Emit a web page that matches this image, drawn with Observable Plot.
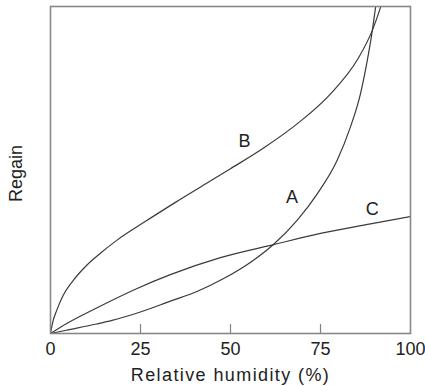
<!DOCTYPE html>
<html>
<head>
<meta charset="utf-8">
<script src="https://cdn.jsdelivr.net/npm/d3@7"></script>
<script src="https://cdn.jsdelivr.net/npm/@observablehq/plot@0.6"></script>
<style>
  html, body { margin: 0; padding: 0; background: #fff; }
  #chart { width: 425px; height: 386px; }
</style>
</head>
<body>
<div id="chart"></div>
<script>
// Curve A
const rhA = [0, 4.4, 12.8, 17.1, 23.9, 33.3, 41.0, 48.1, 55.6, 62.0, 68.5, 74.1, 79.6, 83.3, 86.1, 88.0, 89.4, 90.3, 90.7];
const regainA = [0, 1.0, 2.9, 4.0, 6.2, 9.9, 13.0, 16.8, 21.8, 27.3, 34.6, 42.7, 52.9, 63.1, 73.3, 83.5, 92.7, 99.8, 103];
// Curve B
const rhB = [0, 0.75, 1.7, 3.5, 6.3, 10.0, 13.7, 18.3, 26.4, 34.7, 45.4, 50.0, 59.3, 68.5, 77.8, 85.4, 89.4, 91.7, 92.6];
const regainB = [0, 4.0, 7.0, 11.6, 16.2, 20.8, 24.4, 28.4, 34.3, 40.1, 47.3, 50.4, 56.8, 64.1, 73.3, 84.0, 92.7, 99.8, 103];
// Curve C
const rhC = [0, 4.4, 12.8, 23.9, 33.3, 47.2, 62.0, 75.0, 88.9, 100];
const regainC = [0, 3.0, 7.8, 13.7, 18.0, 23.2, 27.2, 30.6, 33.5, 35.8];

const curveNames = ["A", "B", "C"];
const labelX = [67.1, 53.9, 89.4];
const labelY = [41.7, 58.8, 38.1];
const xTickLabels = [0, 25, 50, 75, 100];
const xInnerTicks = [25, 50, 75];
const xTitle = "Relative humidity (%)";
const yTitle = "Regain";

const rows = [];
[[rhA, regainA, "A"], [rhB, regainB, "B"], [rhC, regainC, "C"]].forEach(([xs, ys, name]) => {
  xs.forEach((x, i) => rows.push({curve: name, rh: x, regain: ys[i]}));
});
const labels = curveNames.map((n, i) => ({name: n, x: labelX[i], y: labelY[i]}));

const font = "'Liberation Sans', Arial, Helvetica, sans-serif";

const chart = Plot.plot({
  width: 425,
  height: 386,
  marginLeft: 50,
  marginRight: 15,
  marginTop: 6,
  marginBottom: 53,
  style: {fontFamily: font, fontSize: "18px", color: "#222", background: "#fff"},
  x: {domain: [0, 100]},
  y: {domain: [0, 100]},
  marks: [
    Plot.line(rows, {x: "rh", y: "regain", z: "curve", curve: "monotone-x", stroke: "#3a3a3a", strokeWidth: 1.2, clip: true}),
    Plot.tickX(xInnerTicks, {x: d => d, stroke: "#808080", strokeWidth: 1.2, insetTop: 318}),
    Plot.frame({stroke: "#888", strokeWidth: 1.6}),
    Plot.axisX(xTickLabels, {tickSize: 0, tickPadding: 9, fontSize: 18, label: null}),
    Plot.axisY({ticks: [], label: null, tickSize: 0}),
    Plot.text(labels, {x: "x", y: "y", text: "name", fontSize: 18, fill: "#222"}),
    Plot.text([xTitle], {frameAnchor: "bottom", lineAnchor: "middle", textAnchor: "middle", dy: 42, fontSize: 18, fill: "#222"}),
    Plot.text([yTitle], {frameAnchor: "left", lineAnchor: "middle", textAnchor: "middle", rotate: -90, dx: -34, dy: 3.5, fontSize: 18, fill: "#222"})
  ]
});
// widen the axis title's tracking to match the reference
chart.querySelectorAll("text").forEach(t => {
  if (t.textContent === xTitle) t.setAttribute("letter-spacing", "1.4");
});
document.getElementById("chart").appendChild(chart);
</script>
</body>
</html>
